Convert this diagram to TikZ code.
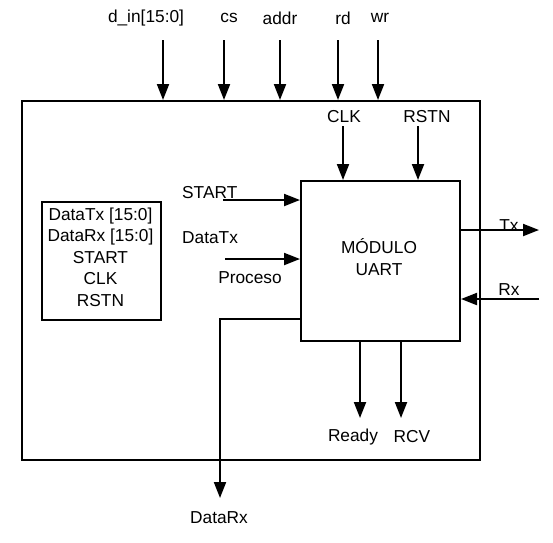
\documentclass[tikz,border=0pt]{standalone}
\usepackage{fontspec}
\setmainfont{Liberation Sans}
\usetikzlibrary{arrows.meta}
\begin{document}
\begin{tikzpicture}[x=1pt,y=-1pt,
  wire/.style={line width=2pt},
  arr/.style={wire,-{Triangle[length=16pt,width=12pt]}},
  lbl/.style={inner sep=0pt,font=\fontsize{17.3}{21.5}\selectfont},
  box/.style={draw,line width=2pt,inner sep=0pt}]
\useasboundingbox (0,0) rectangle (553,542);
% outer frame
\node[box,minimum width=458pt,minimum height=359pt,anchor=north west] (outer) at (21,100) {};
% UART module
\node[box,minimum width=159pt,minimum height=160pt,anchor=north west] (uart) at (300,180) {};
\node[lbl,align=center,font=\fontsize{17.3}{22}\selectfont] (ulbl) at (379,257) {MÓDULO\\UART};
% left register box
\node[box,minimum width=119pt,minimum height=118pt,anchor=north west] (regs) at (41,201) {};
\node[lbl,align=center] (regtxt) at (100.5,257) {DataTx [15:0]\\DataRx [15:0]\\START\\CLK\\RSTN};
% top inputs
\node[lbl] (ldin) at (146,18) {d\_in[15:0]};
\node[lbl] (lcs) at (229,18) {cs};
\node[lbl] (laddr) at (280,18) {addr};
\node[lbl] (lrd) at (343,18) {rd};
\node[lbl] (lwr) at (380,18) {wr};
\coordinate (cdin) at (163,40);
\coordinate (ccs) at (224,40);
\coordinate (caddr) at (280,40);
\coordinate (crd) at (338,40);
\coordinate (cwr) at (378,40);
\foreach \c in {cdin,ccs,caddr,crd,cwr}
  \draw[arr] (\c) -- (\c |- outer.north);
% CLK / RSTN
\node[lbl] (lclk) at (344,117) {CLK};
\node[lbl] (lrstn) at (427,117) {RSTN};
\coordinate (cclk) at (343,126);
\coordinate (crstn) at (418,126);
\draw[arr] (cclk) -- (cclk |- uart.north);
\draw[arr] (crstn) -- (crstn |- uart.north);
% START / DataTx
\node[lbl,anchor=west] (lstart) at (182,193) {START};
\node[lbl,anchor=west] (ldtx) at (182,238) {DataTx};
\node[lbl] (lproc) at (250,278) {Proceso};
\coordinate (cstart) at (223,200);
\coordinate (cdtx) at (225,259);
\draw[arr] (cstart) -- (cstart -| uart.west);
\draw[arr] (cdtx) -- (cdtx -| uart.west);
% Tx / Rx
\coordinate (ctx) at (539,230);
\coordinate (crx) at (539,299);
\node[lbl] (ltx) at (509,226) {Tx};
\node[lbl] (lrx) at (509,290) {Rx};
\draw[arr] (ctx -| uart.east) -- (ctx);
\draw[arr] (crx) -- (crx -| uart.east);
% Ready / RCV
\coordinate (crdy) at (360,418);
\coordinate (crcv) at (401,418);
\draw[arr] (crdy |- uart.south) -- (crdy);
\draw[arr] (crcv |- uart.south) -- (crcv);
\node[lbl] (lrdy) at (353,437) {Ready};
\node[lbl] (lrcv) at (412,437) {RCV};
% DataRx
\coordinate (cbend) at (220,319);
\coordinate (cdrx) at (220,498);
\draw[arr] (cbend -| uart.west) -- (cbend) -- (cdrx);
\node[lbl] (ldrx) at (219,518) {DataRx};
\end{tikzpicture}
\end{document}
